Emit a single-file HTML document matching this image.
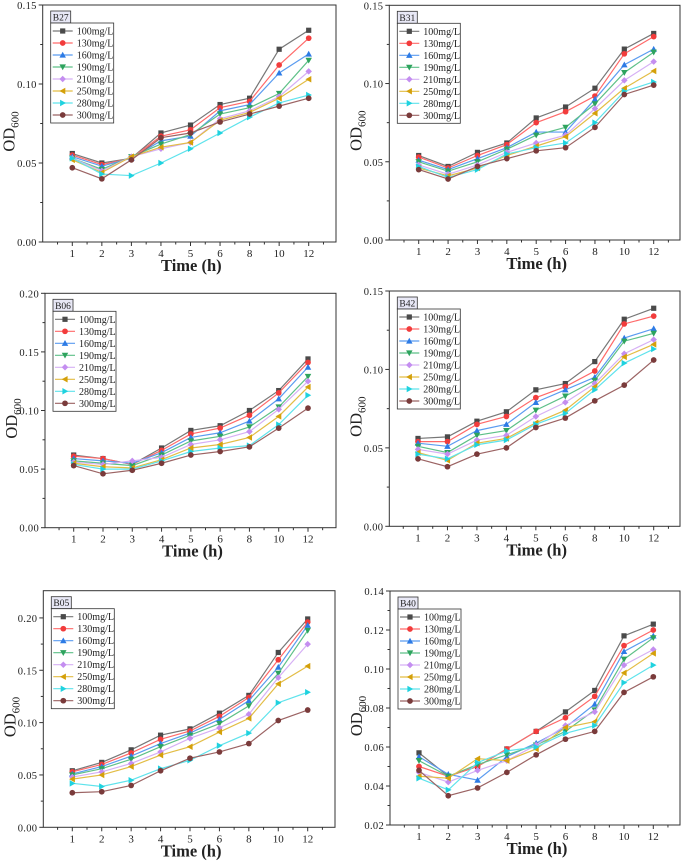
<!DOCTYPE html>
<html><head><meta charset="utf-8"><style>
html,body{margin:0;padding:0;background:#fff;}
svg{display:block;font-family:"Liberation Serif",serif;}
</style></head><body>
<svg id="fig" width="685" height="861" viewBox="0 0 685 861" xmlns="http://www.w3.org/2000/svg"></svg>
<script>
const categories = ["1","2","3","4","5","6","8","10","12"];
const seriesNames = ["100mg/L","130mg/L","160mg/L","190mg/L","210mg/L","250mg/L","280mg/L","300mg/L"];
const b27 = [
 [.056,.050,.053,.069,.074,.087,.091,.122,.134],
 [.055,.049,.053,.067,.071,.085,.089,.112,.129],
 [.054,.048,.053,.064,.067,.083,.087,.107,.119],
 [.053,.046,.054,.062,.068,.081,.085,.094,.115],
 [.053,.045,.054,.059,.063,.078,.083,.092,.108],
 [.052,.044,.054,.060,.063,.077,.082,.091,.103],
 [.053,.043,.042,.050,.059,.069,.079,.088,.093],
 [.047,.040,.052,.066,.069,.076,.081,.086,.091]];
const b31 = [
 [.054,.047,.056,.062,.078,.085,.097,.122,.132],
 [.053,.046,.054,.061,.075,.082,.092,.119,.130],
 [.051,.045,.052,.059,.069,.069,.090,.112,.122],
 [.050,.044,.050,.058,.067,.072,.087,.107,.120],
 [.048,.042,.048,.056,.062,.067,.084,.102,.114],
 [.046,.041,.046,.054,.060,.066,.081,.097,.108],
 [.047,.040,.045,.055,.059,.062,.075,.095,.101],
 [.045,.039,.047,.052,.057,.059,.072,.093,.099]];
const b06 = [
 [.062,.059,.054,.068,.083,.087,.100,.117,.144],
 [.061,.059,.054,.066,.080,.085,.096,.115,.141],
 [.059,.057,.055,.064,.077,.081,.091,.110,.137],
 [.057,.055,.053,.062,.074,.078,.086,.103,.129],
 [.056,.054,.057,.060,.071,.075,.082,.101,.125],
 [.055,.052,.051,.058,.068,.071,.077,.095,.120],
 [.054,.050,.050,.057,.065,.068,.070,.088,.113],
 [.053,.046,.049,.055,.062,.065,.069,.085,.102]];
const b42 = [
 [.056,.057,.067,.073,.087,.091,.105,.132,.139],
 [.054,.054,.065,.070,.082,.089,.099,.129,.134],
 [.053,.051,.061,.065,.079,.087,.095,.120,.126],
 [.051,.047,.058,.061,.074,.083,.093,.118,.123],
 [.049,.046,.055,.058,.070,.079,.091,.110,.119],
 [.047,.042,.053,.056,.066,.074,.089,.108,.116],
 [.046,.043,.052,.055,.065,.072,.087,.104,.113],
 [.043,.038,.046,.050,.063,.069,.080,.090,.106]];
const b05 = [
 [.054,.062,.074,.088,.094,.109,.126,.167,.199],
 [.053,.060,.071,.084,.092,.106,.124,.160,.196],
 [.051,.058,.068,.080,.090,.103,.121,.153,.193],
 [.050,.056,.065,.077,.088,.099,.116,.147,.188],
 [.048,.053,.061,.072,.085,.095,.108,.143,.175],
 [.046,.050,.058,.069,.077,.091,.104,.137,.154],
 [.042,.039,.045,.056,.064,.078,.090,.119,.129],
 [.033,.034,.040,.054,.066,.072,.080,.102,.112]];
const b40 = [
 [.057,.045,.050,.059,.068,.078,.089,.117,.123],
 [.050,.045,.050,.059,.068,.075,.086,.112,.120],
 [.055,.046,.043,.055,.062,.070,.082,.109,.117],
 [.053,.045,.051,.056,.061,.068,.079,.105,.116],
 [.047,.042,.048,.053,.061,.071,.078,.102,.110],
 [.045,.044,.054,.053,.059,.070,.073,.098,.108],
 [.044,.038,.052,.058,.060,.067,.071,.093,.102],
 [.048,.035,.039,.047,.056,.064,.068,.088,.096]];
const ticks0015 = [0,0.05,0.10,0.15];
const ticks0020 = [0,0.05,0.10,0.15,0.20];
const ticks0214 = [0.02,0.04,0.06,0.08,0.10,0.12,0.14];

const colors = ["#4a4a4a","#f23c3c","#2d7be5","#2ea35e","#c48ef0","#d4a00a","#1fd2df","#7a3b3b"];
const lineColors = ["#777","#ff6a6a","#5b9cf0","#5ec088","#d6b0f5","#e3bd45","#5fe3ec","#9b6363"];
const markers = ["square","circle","up","down","diamond","left","right","circle"];

const panels = [
 {name:"B27",data:b27,L:42.7,R:336,T:5,B:242,x1:72.3,x12:308.7,ymin:0,ymax:0.15,ticks:ticks0015,dec:2},
 {name:"B31",data:b31,L:389.3,R:680,T:5.3,B:240,x1:418.7,x12:653.7,ymin:0,ymax:0.15,ticks:ticks0015,dec:2},
 {name:"B06",data:b06,L:45,R:336,T:293.3,B:527.7,x1:73.7,x12:308,ymin:0,ymax:0.20,ticks:ticks0020,dec:2},
 {name:"B42",data:b42,L:389.3,R:680,T:291,B:526.3,x1:418,x12:653.7,ymin:0,ymax:0.15,ticks:ticks0015,dec:2},
 {name:"B05",data:b05,L:43.3,R:335,T:590.7,B:827.3,x1:72.3,x12:307.7,ymin:0,ymax:0.226,ticks:ticks0020,dec:2},
 {name:"B40",data:b40,L:390,R:680,T:591,B:825,x1:419,x12:653.3,ymin:0.02,ymax:0.14,ticks:ticks0214,dec:2}
];
const NS="http://www.w3.org/2000/svg";
const svg=document.getElementById('fig');
function mk(tag,attrs,parent){const e=document.createElementNS(NS,tag);for(const k in attrs)e.setAttribute(k,attrs[k]);(parent||svg).appendChild(e);return e;}
function marker(g,type,x,y,c,s){
  let e;
  if(type==="square") e=mk('rect',{x:x-s,y:y-s,width:2*s,height:2*s,fill:c},g);
  else if(type==="circle") e=mk('circle',{cx:x,cy:y,r:s*1.1,fill:c},g);
  else {
    let p;const t=s*1.25;
    if(type==="up") p=[[x,y-t],[x+t,y+t*0.8],[x-t,y+t*0.8]];
    if(type==="down") p=[[x,y+t],[x+t,y-t*0.8],[x-t,y-t*0.8]];
    if(type==="left") p=[[x-t,y],[x+t*0.8,y-t],[x+t*0.8,y+t]];
    if(type==="right") p=[[x+t,y],[x-t*0.8,y-t],[x-t*0.8,y+t]];
    if(type==="diamond") p=[[x,y-t],[x+t,y],[x,y+t],[x-t,y]];
    e=mk('polygon',{points:p.map(q=>q.join(',')).join(' '),fill:c},g);
  }
  return e;
}
panels.forEach((P,pi)=>{
  const g=mk('g',{});
  
  
  const step=(P.x12-P.x1)/(categories.length-1);
  const xs=i=>P.x1+step*i;
  const ys=v=>P.B-(v-P.ymin)/(P.ymax-P.ymin)*(P.B-P.T);
  const frame=mk('rect',{x:P.L,y:P.T,width:P.R-P.L,height:P.B-P.T,fill:'none',stroke:'#333','stroke-width':1},g);
  
  
  const yax=mk('g',{},g);
  
  
  P.ticks.forEach((v,i)=>{
    const y=ys(v);
    mk('line',{x1:P.L-4,x2:P.L,y1:y,y2:y,stroke:'#333'},yax);
    const t=mk('text',{x:P.L-6,y:y+4,'text-anchor':'end','font-size':10.5,fill:'#222','letter-spacing':'0.3'},yax);
    t.textContent=v.toFixed(P.dec);
    
    
    if(i<P.ticks.length-1){const ym=ys((v+P.ticks[i+1])/2);mk('line',{x1:P.L-2.5,x2:P.L,y1:ym,y2:ym,stroke:'#333'},yax);}
  });
  const xax=mk('g',{},g);
  
  
  for(let i=-1;i<=categories.length;i++){
    const x=xs(i);
    if(x>P.L+1&&x<P.R-1) mk('line',{x1:x,x2:x,y1:P.B,y2:P.B+(i>=0&&i<categories.length?4:2.5),stroke:'#333'},xax);
    if(i>=-1&&i<categories.length){const xm=xs(i+0.5);if(xm>P.L+1&&xm<P.R-1)mk('line',{x1:xm,x2:xm,y1:P.B,y2:P.B+2.5,stroke:'#333'},xax);}
  }
  categories.forEach((c,i)=>{
    const t=mk('text',{x:xs(i),y:P.B+15,'text-anchor':'middle','font-size':11,fill:'#222'},xax);
    t.textContent=c;
    
    
  });
  const xt=mk('text',{x:(P.L+P.R)/2+2,y:P.B+29,'text-anchor':'middle','font-size':16.5,'font-weight':'bold',fill:'#222'},g);
  xt.textContent='Time (h)';
  
  
  const cy=(P.T+P.B)/2+8;
  const tx=P.L-28;
  const yt=mk('text',{x:tx,y:cy,'text-anchor':'middle','font-size':16.5,fill:'#222',transform:`rotate(-90 ${tx} ${cy})`},g);
  
  
  yt.innerHTML='OD<tspan font-size="11" dy="4">600</tspan>';
  P.data.forEach((vals,si)=>{
    const sg=mk('g',{},g);
    
    
    mk('polyline',{points:vals.map((v,i)=>xs(i)+','+ys(v)).join(' '),fill:'none',stroke:lineColors[si],'stroke-width':1.2},sg);
    vals.forEach((v,i)=>{
      const m=marker(sg,markers[si],xs(i),ys(v),colors[si],2.6);
      
      
    });
  });
  const lb=mk('g',{},g);
  
  
  mk('rect',{x:P.L+8,y:P.T+6,width:20,height:12,fill:'#e8e8f6',stroke:'#333','stroke-width':0.8},lb);
  const lt=mk('text',{x:P.L+18,y:P.T+15.5,'text-anchor':'middle','font-size':9.5,fill:'#222'},lb);
  lt.textContent=P.name;
  const lg=mk('g',{},g);
  
  
  mk('rect',{x:P.L+8,y:P.T+18,width:63,height:100,fill:'#fff',stroke:'#333','stroke-width':0.8},lg);
  seriesNames.forEach((n,si)=>{
    const ly=P.T+26+12*si;
    const e=mk('g',{},lg);
    
    
    mk('line',{x1:P.L+10,x2:P.L+30,y1:ly,y2:ly,stroke:lineColors[si],'stroke-width':1.2},e);
    marker(e,markers[si],P.L+20,ly,colors[si],2.6);
    const t=mk('text',{x:P.L+34,y:ly+3.5,'font-size':10,fill:'#222'},e);
    t.textContent=n;
  });
});
</script>
</body></html>
